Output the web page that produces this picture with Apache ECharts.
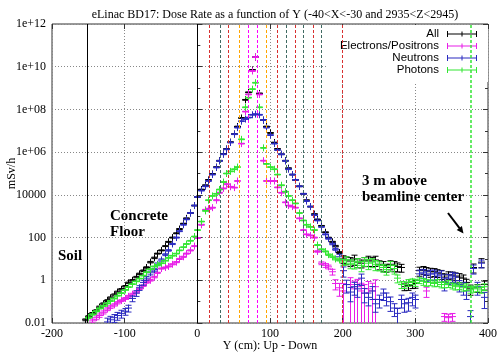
<!DOCTYPE html>
<html><head><meta charset="utf-8">
<script src="https://cdn.jsdelivr.net/npm/echarts@6/dist/echarts.min.js"></script>
<style>html,body{margin:0;padding:0;background:#fff}#c{width:501px;height:354px}</style>
</head><body><div id="c"></div>
<script>
// Bin centres along Y (cm)
const yPos = [-155,-150,-145,-140,-135,-130,-125,-120,-115,-110,
 -105,-100,-95,-90,-85,-80,-75,-70,-65,-60,
 -55,-50,-45,-40,-35,-30,-25,-20,-15,-10,
 -5,0,5,10,15,20,25,30,35,40,
 45,50,55,60,65,70,75,80,85,90,
 95,100,105,110,115,120,125,130,135,140,
 145,150,155,160,165,170,175,180,185,190,
 195,200,205,210,215,220,225,230,235,240,
 245,250,255,260,265,270,275,280,285,290,
 295,300,305,310,315,320,325,330,335,340,
 345,350,355,360,365,370,375,380,385,390,
 395];
// log10 of dose rate (mSv/h); null = not visible
const allLog10 = [-1.85,-1.7,-1.55,-1.42,-1.25,-1.1,-0.95,-0.82,-0.68,-0.55,
 -0.42,-0.28,-0.12,0.0,0.15,0.3,0.45,0.6,0.85,1.05,
 1.25,1.4,1.6,1.8,2.0,2.2,2.4,2.65,2.9,3.15,
 3.5,3.9,4.25,4.45,4.7,4.98,5.3,5.6,5.92,6.15,
 6.47,6.85,7.2,7.6,8.45,8.8,9.85,10.45,8.75,7.5,
 7.2,6.9,6.45,6.15,5.9,5.6,5.25,4.95,4.7,4.4,
 4.05,3.75,3.45,3.1,2.85,2.55,2.25,2.0,1.8,1.6,
 1.3,1.0,0.95,0.9,1.0,0.85,0.8,0.9,0.95,0.9,
 0.95,0.75,0.7,0.6,0.75,0.7,0.65,0.6,-0.3,-0.25,
 -0.2,-0.15,0.45,0.5,0.45,0.4,0.4,0.35,0.3,0.15,
 0.25,0.25,0.2,0.15,0.1,-0.1,-0.4,0.6,-0.35,0.85,
 -0.2];
const allErr = [0.1,0.1,0.1,0.1,0.1,0.1,0.1,0.1,0.1,0.1,
 0.08,0.08,0.08,0.08,0.08,0.08,0.08,0.08,0.08,0.08,
 0.05,0.05,0.05,0.05,0.05,0.05,0.05,0.05,0.05,0.05,
 0.04,0.04,0.04,0.04,0.04,0.04,0.04,0.04,0.04,0.04,
 0.04,0.04,0.04,0.04,0.04,0.04,0.04,0.04,0.04,0.04,
 0.04,0.04,0.04,0.04,0.04,0.04,0.04,0.04,0.04,0.04,
 0.04,0.04,0.04,0.04,0.04,0.04,0.04,0.04,0.06,0.08,
 0.1,0.4,0.4,0.45,0.5,0.45,0.4,0.45,0.5,0.45,
 0.5,0.45,0.5,0.4,0.45,0.5,0.45,0.4,0.35,0.4,
 0.35,0.4,0.45,0.4,0.4,0.45,0.4,0.4,0.45,0.4,
 0.4,0.35,0.4,0.45,0.4,0.4,0.5,0.45,0.4,0.45,
 0.45];
const elecLog10 = [null,null,-1.9,-1.75,-1.65,-1.5,-1.35,-1.25,-1.15,-1.05,
 -0.95,-0.85,-0.75,-0.65,-0.55,-0.4,-0.25,-0.1,0.0,0.15,
 0.35,0.55,0.6,0.65,0.75,0.85,1.0,1.1,1.25,1.4,
 1.6,1.98,2.6,3.3,3.35,3.4,3.75,4.1,4.3,4.5,
 4.38,4.34,4.65,6.4,7.9,8.7,9.8,10.45,8.7,5.6,
 4.65,4.65,4.65,4.35,4.1,3.65,3.5,3.45,3.4,2.9,
 2.35,2.15,2.1,2.0,1.35,0.8,0.7,0.63,0.4,-0.15,
 -0.35,-0.5,null,-0.2,-0.4,-0.3,-0.5,-0.6,-0.4,-0.5,
 -0.3,null,null,null,null,null,null,null,null,null,
 null,null,null,null,-0.5,null,null,null,null,-1.7,
 -1.75,-1.7,null,null,null,null,null,null,null,null,
 null];
const elecErr = [0,0,0.2,0.2,0.18,0.16,0.15,0.14,0.12,0.12,
 0.1,0.1,0.1,0.1,0.1,0.08,0.08,0.08,0.08,0.08,
 0.06,0.06,0.06,0.06,0.06,0.06,0.06,0.06,0.06,0.06,
 0.05,0.05,0.05,0.05,0.05,0.05,0.05,0.05,0.05,0.05,
 0.04,0.04,0.04,0.04,0.04,0.04,0.04,0.04,0.04,0.04,
 0.04,0.04,0.04,0.04,0.04,0.04,0.04,0.04,0.04,0.04,
 0.04,0.04,0.04,0.05,0.08,0.15,0.2,0.2,0.3,0.5,
 0.6,1.2,0,1.1,1.3,1.2,1.3,1.5,1.2,1.3,
 1.1,0,0,0,0,0,0,0,0,0,
 0,0,0,0,0.5,0,0,0,0,0.4,
 0.45,0.4,0,0,0,0,0,0,0,0,
 0];
const neutLog10 = [null,null,null,null,null,null,-1.95,-1.85,-1.75,-1.65,
 -1.55,-1.45,-1.3,-0.85,-0.6,-0.35,-0.1,0.1,0.35,0.5,
 0.75,0.95,1.2,1.4,1.7,2.0,2.3,2.6,2.85,3.15,
 3.5,3.9,4.2,4.4,4.65,4.95,5.28,5.59,5.9,6.13,
 6.45,6.84,7.15,7.45,7.55,7.62,7.75,7.78,7.75,7.5,
 7.15,6.8,6.4,6.1,5.9,5.59,5.2,4.95,4.7,4.4,
 4.05,3.71,3.45,3.05,2.8,2.5,2.15,1.95,1.7,1.45,
 1.1,0.45,-0.2,-0.55,-0.3,-0.4,0.1,-0.6,-0.8,-0.5,
 -1.1,-0.9,-0.6,-0.8,-1.0,-1.3,-1.55,-0.9,-1.1,-1.05,
 -0.8,-0.9,0.3,0.35,0.25,0.3,0.3,0.2,0.25,-0.1,
 0.1,0.2,0.15,-0.2,-0.3,-0.5,-1.7,0.55,-0.3,0.8,
 -0.8];
const neutErr = [0,0,0,0,0,0,0.5,0.45,0.4,0.4,
 0.4,0.35,0.35,0.3,0.3,0.25,0.25,0.2,0.2,0.15,
 0.15,0.12,0.1,0.08,0.06,0.05,0.05,0.04,0.04,0.04,
 0.04,0.04,0.04,0.04,0.04,0.04,0.04,0.04,0.04,0.04,
 0.04,0.04,0.04,0.04,0.04,0.04,0.04,0.04,0.04,0.04,
 0.04,0.04,0.04,0.04,0.04,0.04,0.04,0.04,0.04,0.04,
 0.04,0.04,0.04,0.04,0.04,0.04,0.05,0.06,0.08,0.1,
 0.3,0.5,0.6,0.65,0.6,0.6,0.55,0.65,0.6,0.6,
 0.6,0.6,0.55,0.6,0.65,0.6,0.7,0.6,0.6,0.6,
 0.6,0.6,0.5,0.45,0.5,0.5,0.5,0.5,0.55,0.6,
 0.5,0.5,0.5,0.55,0.6,0.6,0.9,0.45,0.6,0.4,
 0.7];
const photLog10 = [null,-1.75,-1.6,-1.45,-1.32,-1.2,-1.08,-0.97,-0.85,-0.72,
 -0.6,-0.45,-0.32,-0.18,-0.05,0.08,0.22,0.38,0.52,0.65,
 0.72,0.8,0.92,1.05,1.15,1.25,1.4,1.55,1.7,1.85,
 2.05,2.35,2.75,3.25,3.75,3.95,4.05,4.25,4.6,5.0,
 5.1,5.2,5.3,6.6,8.1,8.55,8.95,9.25,8.1,6.2,
 5.45,5.3,5.2,4.95,4.45,4.15,3.95,3.75,3.6,3.15,
 2.8,2.6,2.5,2.35,1.65,1.45,1.35,1.2,1.1,1.0,
 0.95,0.85,0.95,0.8,0.75,0.85,0.7,0.9,0.8,0.85,
 0.75,0.7,0.6,0.5,0.7,0.55,0.1,-0.2,-0.2,-0.1,
 -0.05,-0.1,0.0,-0.05,-0.1,-0.1,-0.15,-0.1,-0.2,-0.2,
 -0.15,-0.25,-0.3,-0.25,-0.35,-0.3,-0.45,-0.4,-0.35,-0.45,
 -0.3];
const photErr = [0,0.08,0.07,0.06,0.06,0.06,0.05,0.05,0.05,0.05,
 0.04,0.04,0.04,0.04,0.04,0.04,0.04,0.04,0.04,0.04,
 0.04,0.04,0.04,0.04,0.04,0.04,0.04,0.04,0.04,0.04,
 0.04,0.04,0.04,0.04,0.04,0.04,0.04,0.04,0.04,0.04,
 0.04,0.04,0.04,0.04,0.04,0.04,0.04,0.04,0.04,0.04,
 0.04,0.04,0.04,0.04,0.04,0.04,0.04,0.04,0.04,0.04,
 0.04,0.04,0.04,0.04,0.05,0.05,0.06,0.08,0.08,0.1,
 0.1,0.3,0.4,0.45,0.4,0.45,0.5,0.45,0.5,0.45,
 0.5,0.45,0.4,0.45,0.5,0.45,0.4,0.35,0.35,0.35,
 0.3,0.35,0.3,0.35,0.35,0.3,0.3,0.35,0.3,0.3,
 0.35,0.3,0.3,0.35,0.3,0.35,0.3,0.3,0.35,0.3,
 0.35];
const seriesNames = ['All','Electrons/Positrons','Neutrons','Photons'];
const seriesColors = ['#000000','#e81ee8','#2b2bc0','#33e633'];
// Vertical boundary markers (cm)
const dashedX = [16,31,42,57,70,82,95,110,123,135,146,159,171,199];
const dashedColors = ['#d83030','#3f6a62','#d83030','#ffa500','#ff00ff','#ff00ff','#ffa500','#d83030','#3f6a62','#d83030','#3f6a62','#d83030','#3f6a62','#d83030'];
const solidX = [-152,0];
const beamLineX = 376;
const xTicks = [-200,400,100];
const yTickLabels = {'-2':'0.01','0':'1','2':'100','4':'10000','6':'1e+06','8':'1e+08','10':'1e+10','12':'1e+12'};

function build(logs, errs){
  const out=[];
  for(let i=0;i<yPos.length;i++){
    if(logs[i]==null) continue;
    const v=Math.pow(10,logs[i]), r=errs[i];
    out.push([yPos[i], v, v*(1-r), v*(1+r)]);
  }
  return out;
}
function makeRender(color){
  return function(params, api){
    const x=api.value(0), v=api.value(1), lo=api.value(2), hi=api.value(3);
    const cs=params.coordSys;
    const p=api.coord([x,v]);
    const top=api.coord([x,hi])[1];
    const bot= lo>0 ? api.coord([x,lo])[1] : cs.y+cs.height+5;
    const px=Math.round(p[0])+0.5;
    const c=3, m=3.5;
    const st={stroke:color, lineWidth:1, fill:null};
    return {type:'group', children:[
      {type:'line', shape:{x1:px,y1:top,x2:px,y2:bot}, style:st},
      {type:'line', shape:{x1:px-c,y1:top,x2:px+c,y2:top}, style:st},
      {type:'line', shape:{x1:px-c,y1:bot,x2:px+c,y2:bot}, style:st},
      {type:'line', shape:{x1:px-m,y1:p[1],x2:px+m,y2:p[1]}, style:st},
      {type:'line', shape:{x1:px,y1:p[1]-m,x2:px,y2:p[1]+m}, style:st}
    ]};
  };
}
const dataSets=[build(allLog10,allErr),build(elecLog10,elecErr),build(neutLog10,neutErr),build(photLog10,photErr)];
const serif='Liberation Serif';
const series = seriesNames.map((n,k)=>({
  name:n, type:'custom', renderItem:makeRender(seriesColors[k]),
  itemStyle:{color:seriesColors[k]}, data:dataSets[k], encode:{x:0,y:1}, clip:true, z:2
}));
const markData = dashedX.map((x,i)=>({xAxis:x, lineStyle:{color:dashedColors[i], type:[3,2], width:1}}))
  .concat(solidX.map(x=>({xAxis:x, lineStyle:{color:'#000', type:'solid', width:1}})));
series.push({name:'bounds', type:'line', data:[], z:1, silent:true,
  markLine:{silent:true, symbol:['none','none'], label:{show:false}, animation:false, data:markData}});
series.push({name:'beam', type:'line', data:[], z:6, silent:true,
  markLine:{silent:true, symbol:['none','none'], label:{show:false}, animation:false,
    data:[{xAxis:beamLineX, lineStyle:{color:'#33e633', type:[3,2], width:1.5}}]}});

const yLabelFmt = v => { const e=Math.round(Math.log10(v)); return yTickLabels[String(e)]||''; };
const legendIcon='path://M0,3.5h30v1h-30z M0,1h1v6h-1z M29,1h1v6h-1z M14.5,1.5h1v5h-1z';

const chart = echarts.init(document.getElementById('c'), null, {renderer:'canvas'});
chart.setOption({
  animation:false,
  backgroundColor:'#fff',
  title:{text:'eLinac BD17: Dose Rate as a function of Y (-40<X<-30 and 2935<Z<2945)', left:270, textAlign:'center', top:4,
    textStyle:{fontFamily:serif, fontSize:12, fontWeight:'normal', color:'#000'}},
  legend:{data:seriesNames, orient:'vertical', right:13, top:25, align:'right', itemWidth:30, itemHeight:8, itemGap:0,
    icon:legendIcon, backgroundColor:'#fff', padding:[3,11,6,14], z:4,
    textStyle:{fontFamily:'Liberation Sans', fontSize:11.5, color:'#000', lineHeight:10, padding:[0,3,0,0]}},
  grid:{left:52, right:13, top:24, bottom:31, show:true, borderColor:'#333', borderWidth:1, backgroundColor:'transparent',
    containLabel:false, outerBoundsMode:'none'},
  xAxis:[{type:'value', min:xTicks[0], max:xTicks[1], interval:xTicks[2], position:'bottom',
    name:'Y (cm): Up - Down', nameLocation:'middle', nameGap:17, nameMoveOverlap:false,
    nameTextStyle:{fontFamily:serif, fontSize:12, color:'#000'},
    axisLine:{show:false}, axisTick:{inside:true, length:5, lineStyle:{color:'#333'}},
    axisLabel:{fontFamily:serif, fontSize:12, color:'#000', margin:5},
    splitLine:{show:true, lineStyle:{color:'#888', type:[1,2], width:1}}},
   {type:'value', min:xTicks[0], max:xTicks[1], interval:xTicks[2], position:'top',
    axisLine:{show:false}, axisTick:{inside:true, length:5, lineStyle:{color:'#333'}}, axisLabel:{show:false}, splitLine:{show:false}}],
  yAxis:[{type:'log', logBase:10, min:0.01, max:1e12, interval:2, position:'left',
    name:'mSv/h', nameLocation:'middle', nameGap:34, nameRotate:90, nameMoveOverlap:false,
    nameTextStyle:{fontFamily:serif, fontSize:12, color:'#000'},
    axisLine:{show:false}, axisTick:{inside:true, length:5, lineStyle:{color:'#333'}},
    axisLabel:{fontFamily:serif, fontSize:12, color:'#000', margin:6, formatter:yLabelFmt},
    splitLine:{show:true, lineStyle:{color:'#888', type:[1,2], width:1}}},
   {type:'log', logBase:10, min:0.01, max:1e12, interval:1, position:'left',
    axisLine:{show:false}, axisTick:{inside:true, length:3, lineStyle:{color:'#333'}}, axisLabel:{show:false}, splitLine:{show:false}},
   {type:'log', logBase:10, min:0.01, max:1e12, interval:2, position:'right',
    axisLine:{show:false}, axisTick:{inside:true, length:5, lineStyle:{color:'#333'}}, axisLabel:{show:false}, splitLine:{show:false}},
   {type:'log', logBase:10, min:0.01, max:1e12, interval:1, position:'right',
    axisLine:{show:false}, axisTick:{inside:true, length:3, lineStyle:{color:'#333'}}, axisLabel:{show:false}, splitLine:{show:false}}],
  series:series,
  graphic:[
    {type:'text', left:58, top:249, z:10, style:{text:'Soil', font:'bold 15px "Liberation Serif"', fill:'#000'}},
    {type:'text', left:110, top:209, z:10, style:{text:'Concrete', font:'bold 15px "Liberation Serif"', fill:'#000'}},
    {type:'text', left:110, top:225, z:10, style:{text:'Floor', font:'bold 15px "Liberation Serif"', fill:'#000'}},
    {type:'text', left:362, top:174, z:10, style:{text:'3 m above', font:'bold 15px "Liberation Serif"', fill:'#000'}},
    {type:'text', left:362, top:190, z:10, style:{text:'beamline center', font:'bold 15px "Liberation Serif"', fill:'#000'}},
    {type:'line', z:10, shape:{x1:448,y1:213,x2:459.5,y2:228.2}, style:{stroke:'#000', lineWidth:2}},
    {type:'polygon', z:10, shape:{points:[[463.5,233.5],[456.7,229.9],[461.9,226.0]]}, style:{fill:'#000'}}
  ]
});
</script></body></html>
